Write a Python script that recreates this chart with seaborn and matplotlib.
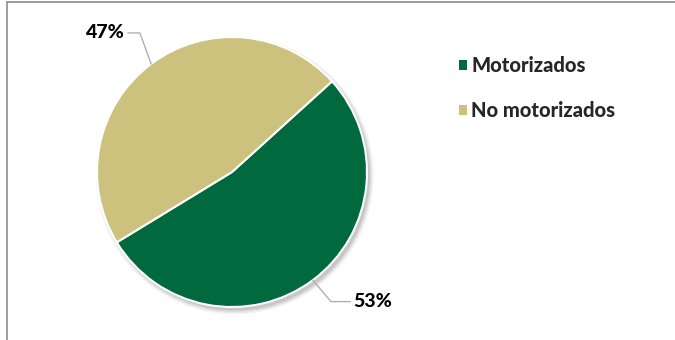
import matplotlib
matplotlib.use("Agg")
import matplotlib.pyplot as plt
import seaborn as sns
import numpy as np
from matplotlib.patches import Rectangle

sns.set_theme(style="white")
plt.rcParams['font.family'] = ['Lato', 'DejaVu Sans']

categories = ["Motorizados", "No motorizados"]
values = [53, 47]
pct_labels = ["53%", "47%"]
colors = ["#00693E", "#CDC27D"]

W, H = 675, 340
fig = plt.figure(figsize=(W / 100, H / 100), dpi=100)
fig.patch.set_facecolor("white")

# outer frame
fig.patches.append(Rectangle((7 / W, -0.05), 1.1, 1 - 2 / H + 0.05, transform=fig.transFigure,
                             fill=False, edgecolor="#8c8c8c", linewidth=1.2, zorder=0))

cx, cy, r = 232, 172, 135
ax = fig.add_axes([(cx - r) / W, (H - cy - r) / H, 2 * r / W, 2 * r / H])
ax.set_xlim(-1, 1)
ax.set_ylim(-1, 1)
ax.axis("off")

# soft shadow
for k, (rad, a) in enumerate([(1.03, 0.04), (1.02, 0.05), (1.01, 0.07), (1.0, 0.08)]):
    ax.pie(values, colors=["black"] * len(values), radius=rad, center=(0.02, -0.025),
           startangle=42.2, counterclock=False,
           wedgeprops=dict(alpha=a, linewidth=0))

wedges, _ = ax.pie(values, colors=colors, startangle=42.2, counterclock=False,
                   wedgeprops=dict(edgecolor="white", linewidth=1.5))
ax.set_xlim(-1, 1)
ax.set_ylim(-1, 1)

FW = "black"
text_pos = {0: (1.045, -0.96), 1: (-0.94, 1.03)}
angleB = {0: 130, 1: 110}
for i, w in enumerate(wedges):
    mid = np.deg2rad((w.theta1 + w.theta2) / 2)
    xy = (np.cos(mid), np.sin(mid))
    ax.annotate(pct_labels[i], xy=xy, xytext=text_pos[i], ha="center", va="center",
                fontsize=14, fontweight=FW, color="black", annotation_clip=False,
                arrowprops=dict(arrowstyle="-", color="#b0b0b0", lw=1.0,
                                shrinkA=0, shrinkB=0,
                                connectionstyle=f"angle,angleA=0,angleB={angleB[i]},rad=0"))

leg = fig.legend(wedges, categories, loc="upper left", bbox_to_anchor=(449 / W, 1 - 46 / H),
                 frameon=False, prop=dict(size=14.5, weight=FW), handlelength=0.4,
                 handleheight=0.4, handletextpad=0.2, labelspacing=1.3, borderpad=0)
for h in leg.legend_handles:
    h.set_edgecolor("none")

fig.savefig("out.png", dpi=100)
